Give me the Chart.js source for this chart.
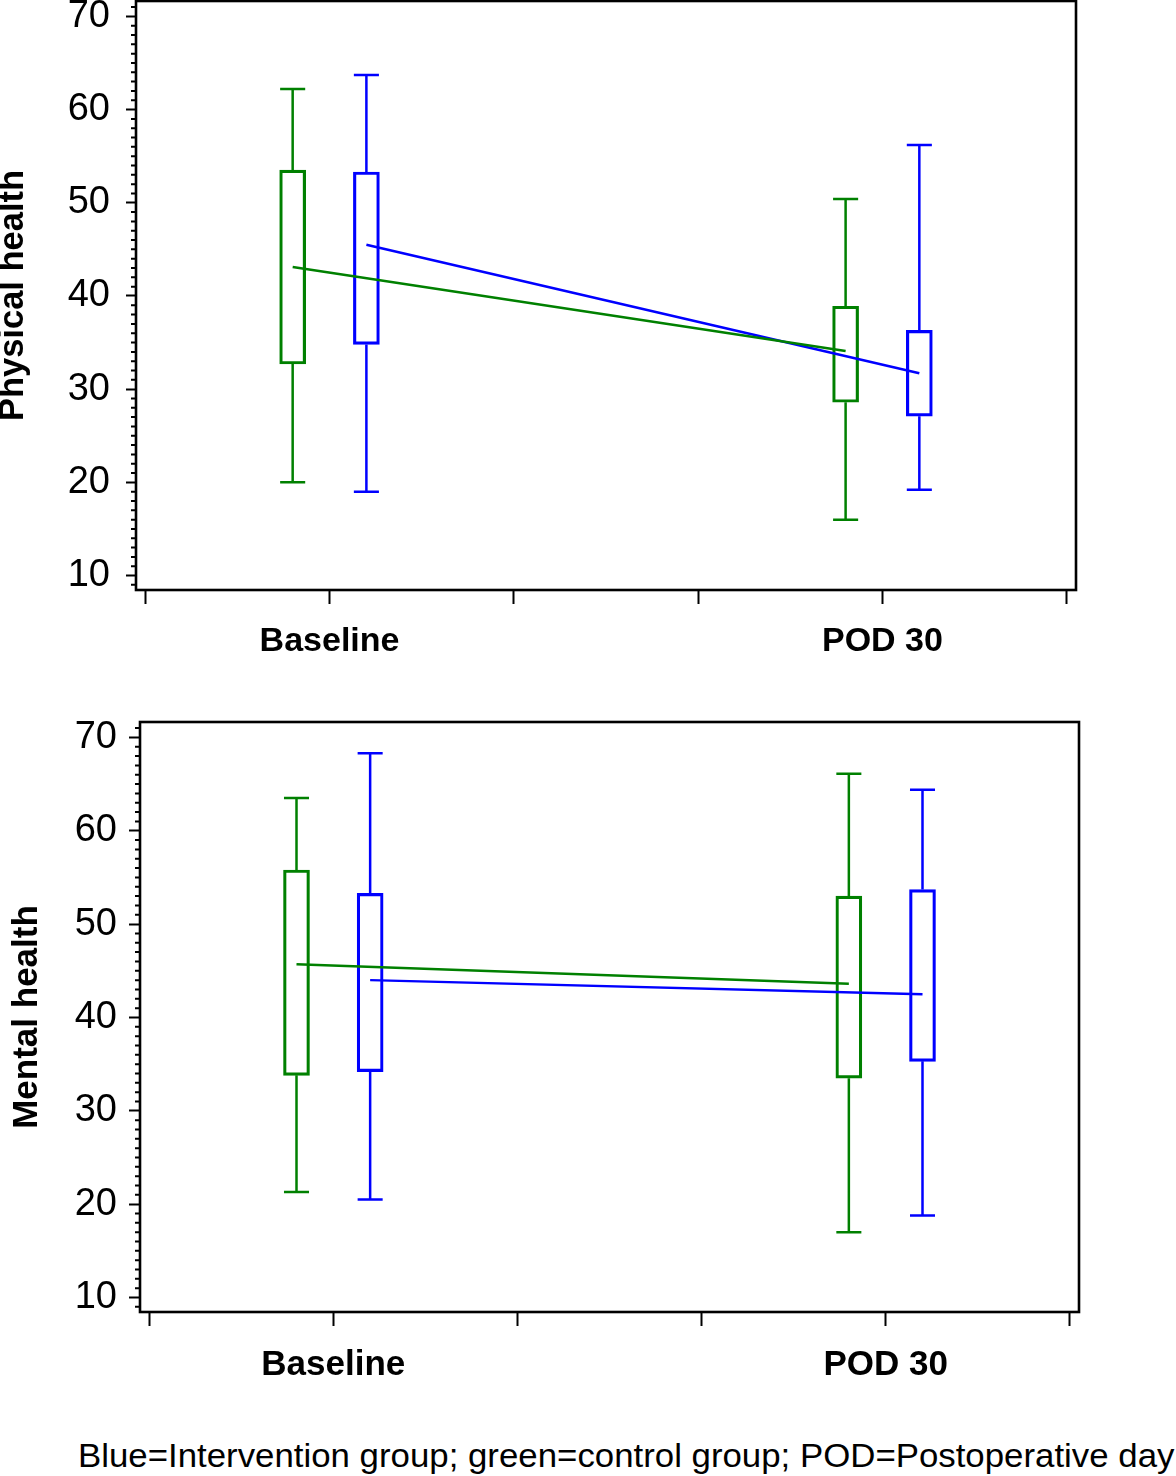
<!DOCTYPE html>
<html><head><meta charset="utf-8">
<script src="https://cdn.jsdelivr.net/npm/chart.js@4"></script>
<style>
html,body{margin:0;padding:0;background:#fff;width:1176px;height:1476px;overflow:hidden;}
#c1{position:absolute;left:0;top:0;}
#c2{position:absolute;left:0;top:700px;}
#note{position:absolute;left:78px;top:1436px;font-family:"Liberation Sans",Arial,Helvetica,sans-serif;font-size:33px;line-height:40px;white-space:nowrap;color:#000;transform:scaleX(1.055);transform-origin:0 0;}
</style></head><body>
<canvas id="c1" width="1176" height="680"></canvas>
<canvas id="c2" width="1176" height="700"></canvas>
<div id="note">Blue=Intervention group; green=control group; POD=Postoperative day</div>
<script>
// ---- data ----
const categories = ['Baseline', 'POD 30'];
const xTickLabels = ['', 'Baseline', '', '', 'POD 30', ''];
const yTickValues = [10, 20, 30, 40, 50, 60, 70];

// Physical health
const physControlMin  = [20.0, 16.0];
const physControlQ1   = [32.7, 28.6];
const physControlQ3   = [53.5, 38.9];
const physControlMax  = [62.2, 50.4];
const physControlMean = [43.1, 34.1];
const physInterMin  = [19.0, 19.2];
const physInterQ1   = [34.8, 27.1];
const physInterQ3   = [53.3, 36.3];
const physInterMax  = [63.7, 56.2];
const physInterMean = [45.5, 31.7];

// Mental health
const mentControlMin  = [21.3, 17.0];
const mentControlQ1   = [33.8, 33.5];
const mentControlQ3   = [55.8, 53.0];
const mentControlMax  = [63.5, 66.1];
const mentControlMean = [45.7, 43.6];
const mentInterMin  = [20.5, 18.8];
const mentInterQ1   = [34.2, 35.3];
const mentInterQ3   = [53.3, 53.7];
const mentInterMax  = [68.3, 64.4];
const mentInterMean = [44.0, 42.5];

// ---- layout / style ----
const categoryPos = [1, 4];
const controlOffset = -0.2;
const interOffset = 0.2;
const capHalf = 0.068;
const GREEN = '#008000';
const BLUE = '#0000ff';
const FONT = '"Liberation Sans", Arial, Helvetica, sans-serif';
const LW = 2.5;

function whiskers(xs, mins, q1s, q3s, maxs) {
  const pts = [];
  xs.forEach((x, i) => {
    pts.push({x: x - capHalf, y: maxs[i]}, {x: x + capHalf, y: maxs[i]}, {x: x, y: NaN});
    pts.push({x: x, y: maxs[i]}, {x: x, y: q3s[i]}, {x: x, y: NaN});
    pts.push({x: x, y: q1s[i]}, {x: x, y: mins[i]}, {x: x, y: NaN});
    pts.push({x: x - capHalf, y: mins[i]}, {x: x + capHalf, y: mins[i]}, {x: x, y: NaN});
  });
  return pts;
}
function boxes(xs, q1s, q3s) {
  return xs.map((x, i) => ({x: x, y: [q1s[i], q3s[i]]}));
}
function meanLine(xs, means) {
  return xs.map((x, i) => ({x: x, y: means[i]}));
}

const framePlugin = {
  id: 'frame',
  afterDraw(chart) {
    const {ctx, chartArea: a, scales} = chart;
    ctx.save();
    const ys = scales.y;
    ctx.strokeStyle = '#000';
    ctx.lineWidth = 2;
    ctx.beginPath();
    for (let v = Math.ceil(ys.min); v <= ys.max; v++) {
      if (v % 10 === 0) continue;
      const py = ys.getPixelForValue(v);
      ctx.moveTo(a.left - 5, py);
      ctx.lineTo(a.left, py);
    }
    ctx.stroke();
    ctx.lineWidth = 2.6;
    ctx.strokeRect(a.left, a.top, a.right - a.left, a.bottom - a.top);
    ctx.restore();
  }
};

function makeChart(id, yTitle, c, t, lay) {
  const cx = categoryPos.map(p => p + controlOffset);
  const ix = categoryPos.map(p => p + interOffset);
  const lineDs = (data, color) => ({
    type: 'scatter', data, showLine: true, borderColor: color, borderWidth: LW,
    pointRadius: 0, fill: false, spanGaps: false, tension: 0
  });
  const barDs = (data, color) => ({
    type: 'bar', data, borderColor: color, borderWidth: LW, borderSkipped: false,
    backgroundColor: 'rgba(0,0,0,0)', barThickness: 26, grouped: false
  });
  return new Chart(document.getElementById(id), {
    type: 'scatter',
    data: {
      datasets: [
        lineDs(meanLine(cx, c.mean), GREEN),
        lineDs(meanLine(ix, t.mean), BLUE),
        barDs(boxes(cx, c.q1, c.q3), GREEN),
        barDs(boxes(ix, t.q1, t.q3), BLUE),
        lineDs(whiskers(cx, c.min, c.q1, c.q3, c.max), GREEN),
        lineDs(whiskers(ix, t.min, t.q1, t.q3, t.max), BLUE)
      ]
    },
    options: {
      responsive: false,
      animation: false,
      events: [],
      layout: {padding: {left: 0, top: lay.top, right: lay.right, bottom: 0}},
      plugins: {legend: {display: false}, tooltip: {enabled: false}, title: {display: false}},
      scales: {
        x: {
          type: 'linear', min: -0.05, max: 5.05, offset: false,
          grid: {display: true, drawOnChartArea: false, offset: false, tickLength: 14, tickWidth: 2, tickColor: '#000'},
          border: {display: false},
          afterBuildTicks: s => { s.ticks = xTickLabels.map((_, i) => ({value: i})); },
          afterFit: s => { s.height = lay.xHeight; s.paddingLeft = 0; s.paddingRight = 0; },
          ticks: {
            autoSkip: false, maxRotation: 0, minRotation: 0, padding: lay.xPad, color: '#000',
            font: {family: FONT, size: lay.xFont, weight: 'bold'},
            callback: (v, i) => xTickLabels[i]
          }
        },
        y: {
          type: 'linear', min: 8.45, max: 71.65, beginAtZero: false,
          grid: {display: true, drawOnChartArea: false, tickLength: lay.yTick, tickWidth: 2, tickColor: '#000'},
          border: {display: false},
          afterBuildTicks: s => { s.ticks = yTickValues.map(v => ({value: v})); },
          afterFit: s => { s.width = lay.yWidth; s.paddingTop = 0; s.paddingBottom = 0; },
          ticks: {padding: lay.yPad, color: '#000', font: {family: FONT, size: 38}},
          title: {
            display: true, text: yTitle, color: '#000',
            font: {family: FONT, size: lay.titleFont, weight: 'bold', lineHeight: 1},
            padding: {top: lay.titlePad, bottom: 0}
          }
        }
      }
    },
    plugins: [framePlugin]
  });
}

makeChart('c1', 'Physical health',
  {min: physControlMin, q1: physControlQ1, q3: physControlQ3, max: physControlMax, mean: physControlMean},
  {min: physInterMin, q1: physInterQ1, q3: physInterQ3, max: physInterMax, mean: physInterMean},
  {top: 1, right: 100, xHeight: 90, xPad: 17, xFont: 34, yTick: 10, yPad: 16, yWidth: 136, titleFont: 34.5, titlePad: -3.5});

makeChart('c2', 'Mental health',
  {min: mentControlMin, q1: mentControlQ1, q3: mentControlQ3, max: mentControlMax, mean: mentControlMean},
  {min: mentInterMin, q1: mentInterQ1, q3: mentInterQ3, max: mentInterMax, mean: mentInterMean},
  {top: 22, right: 97, xHeight: 88, xPad: 18, xFont: 35, yTick: 11, yPad: 12, yWidth: 140, titleFont: 35, titlePad: 10});
</script></body></html>
